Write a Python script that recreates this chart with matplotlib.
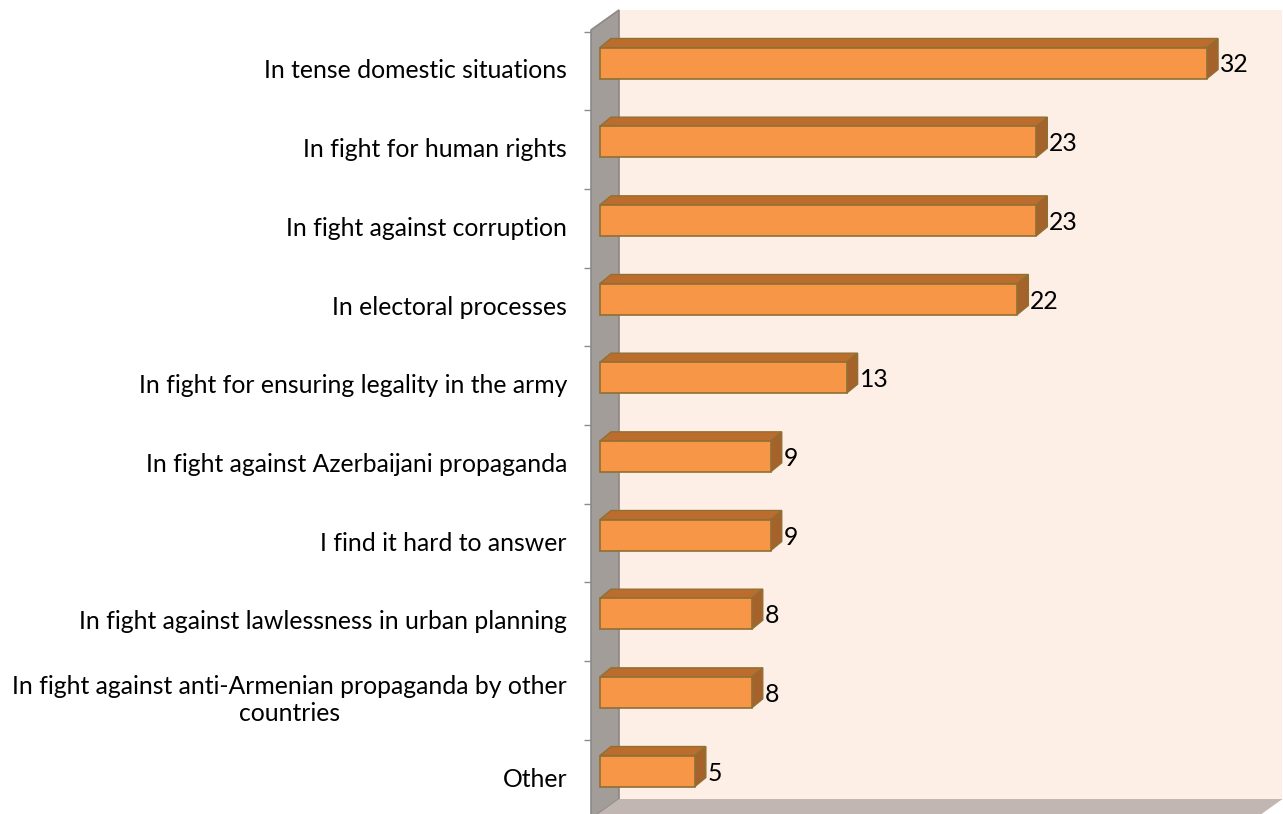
import matplotlib
matplotlib.use('Agg')
import matplotlib.pyplot as plt
from matplotlib.patches import Polygon, Rectangle

categories = [
    "In tense domestic situations",
    "In fight for human rights",
    "In fight against corruption",
    "In electoral processes",
    "In fight for ensuring legality in the army",
    "In fight against Azerbaijani propaganda",
    "I find it hard to answer",
    "In fight against lawlessness in urban planning",
    "In fight against anti-Armenian propaganda by other\ncountries",
    "Other",
]
values = [32, 23, 23, 22, 13, 9, 9, 8, 8, 5]

# pixel scale of the front plane
W, H = 1283, 814
PX = 18.97      # px per value unit
PY = 78.67      # px per category
X0, Y0 = 600, 63  # value 0 / first category centre, in px

front_col = '#F79646'
top_col = '#BC6D2E'
side_col = '#A5622A'
edge_col = '#8F7033'
wall_col = '#A39D9A'
floor_col = '#C1B6B1'
back_col = '#FDEEE6'
FS = 17.8

fig = plt.figure(figsize=(W / 100, H / 100), dpi=100)
ax = fig.add_axes([0, 0, 1, 1])
ax.set_xlim(-X0 / PX, (W - X0) / PX)
ax.set_ylim((H - Y0) / PY, -Y0 / PY)
ax.axis('off')

# wall depth (front plane -> back plane)
wdx, wdy = 28 / PX, -20 / PY
wx = -9 / PX          # left wall front edge
wtop = -0.42          # top of front plane
wbot = 9.61           # bottom of front plane (floor edge)
xmax = 34.5

# back wall
ax.add_patch(Polygon([(wx + wdx, wtop + wdy), (xmax + wdx, wtop + wdy),
                      (xmax + wdx, wbot + wdy), (wx + wdx, wbot + wdy)],
                     closed=True, fc=back_col, ec='none', zorder=1))
# left wall
ax.add_patch(Polygon([(wx, wtop), (wx + wdx, wtop + wdy),
                      (wx + wdx, wbot + wdy), (wx, wbot)],
                     closed=True, fc=wall_col, ec='#8C8886', lw=1.2, zorder=2))
# floor
ax.add_patch(Polygon([(wx, wbot), (wx + wdx, wbot + wdy),
                      (xmax + wdx, wbot + wdy), (xmax, wbot)],
                     closed=True, fc=floor_col, ec='none', zorder=2))

# category tick marks on the wall edge
for k in range(len(categories)):
    yt = k - 0.5 + 0.1
    ax.plot([wx - 7 / PX, wx], [yt, yt], color='#8C8C8C', lw=1, zorder=3,
            solid_capstyle='butt')

# bars
bh = 31 / PY
bdx, bdy = 11 / PX, -9 / PY
for i, v in enumerate(values):
    top = i - bh / 2
    bot = i + bh / 2
    ax.add_patch(Polygon([(0, top), (v, top), (v + bdx, top + bdy), (bdx, top + bdy)],
                         closed=True, fc=top_col, ec=edge_col, lw=1, zorder=4))
    ax.add_patch(Polygon([(v, top), (v, bot), (v + bdx, bot + bdy), (v + bdx, top + bdy)],
                         closed=True, fc=side_col, ec=edge_col, lw=1, zorder=4))
    ax.add_patch(Rectangle((0, top), v, bh, fc=front_col, ec=edge_col, lw=1.2, zorder=5))
    ax.text(v + 13 / PX, i + 2 / PY, str(v), ha='left', va='center',
            fontsize=FS, family='Lato', color='black', zorder=6)

# category labels
for i, c in enumerate(categories):
    ax.text(-33 / PX, i + 8 / PY, c, ha='right', va='center', multialignment='center',
            fontsize=FS, family='Lato', color='black', linespacing=1.2, zorder=6)

fig.savefig('out.png', dpi=100)
